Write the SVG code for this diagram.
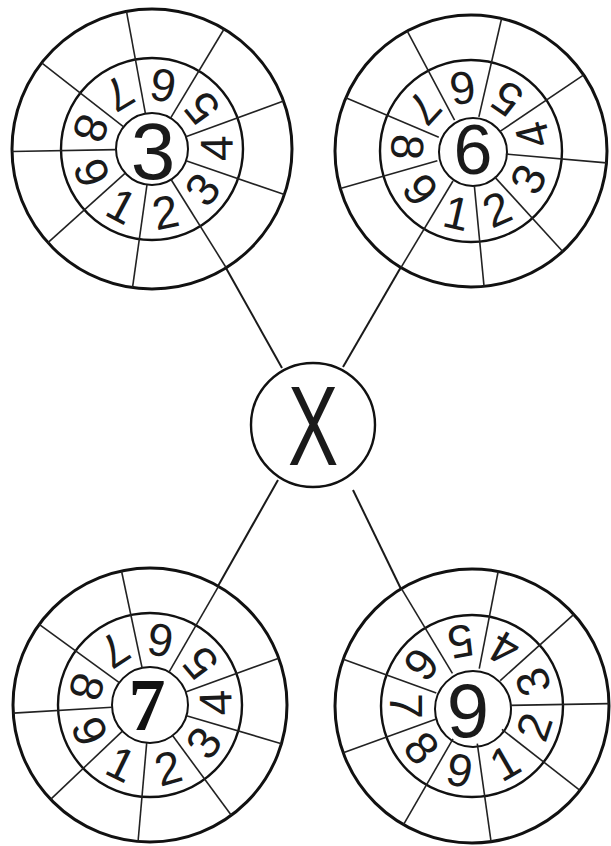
<svg xmlns="http://www.w3.org/2000/svg" width="611" height="846" viewBox="0 0 611 846">
<style>
.bg{fill:#fff}
.out{fill:none;stroke:#111;stroke-width:3}
.ring{fill:none;stroke:#111;stroke-width:2.4}
.inn{fill:none;stroke:#111;stroke-width:2}
.sp{stroke:#222;stroke-width:1.6;fill:none}
.cn{stroke:#1a1a1a;stroke-width:2;fill:none}
.d{font-family:"Liberation Sans",Arial,sans-serif;font-size:46px;fill:#1a1a1a;text-anchor:middle}
.c{font-family:"Liberation Sans",Arial,sans-serif;fill:#1a1a1a;text-anchor:middle}
</style>
<rect class="bg" x="0" y="0" width="611" height="846"/>

<g id="connectors">
<line class="cn" x1="226" y1="268" x2="282" y2="368"/>
<line class="cn" x1="401" y1="267" x2="343" y2="367"/>
<line class="cn" x1="218" y1="586" x2="278" y2="480"/>
<line class="cn" x1="401" y1="589" x2="353" y2="490"/>
</g>

<g id="wheel3" transform="translate(152,149)">
<circle class="out" r="140"/>
<circle class="ring" r="91"/>
<circle class="inn" r="36"/>
<g class="sp">
<line x1="36" x2="140" transform="rotate(19)"/>
<line x1="36" x2="140" transform="rotate(58)"/>
<line x1="36" x2="140" transform="rotate(98)"/>
<line x1="36" x2="140" transform="rotate(138)"/>
<line x1="36" x2="140" transform="rotate(179)"/>
<line x1="36" x2="140" transform="rotate(218)"/>
<line x1="36" x2="140" transform="rotate(259.5)"/>
<line x1="36" x2="140" transform="rotate(301)"/>
<line x1="36" x2="140" transform="rotate(340)"/>
</g>
<text class="d" dy="0.36em" transform="rotate(118) translate(64,0) rotate(-90)">1</text>
<text class="d" dy="0.36em" transform="rotate(78) translate(64,0) rotate(-90)">2</text>
<text class="d" dy="0.36em" transform="rotate(38.5) translate(64,0) rotate(-90)">3</text>
<text class="d" dy="0.36em" transform="rotate(359.5) translate(64,0) rotate(-90)">4</text>
<text class="d" dy="0.36em" transform="rotate(320.5) translate(64,0) rotate(-90)">5</text>
<text class="d" dy="0.36em" transform="rotate(280) translate(64,0) rotate(-90)">6</text>
<text class="d" dy="0.36em" transform="rotate(239) translate(64,0) rotate(-90)">7</text>
<text class="d" dy="0.36em" transform="rotate(198.5) translate(64,0) rotate(-90)">8</text>
<text class="d" dy="0.36em" transform="rotate(158.5) translate(64,0) rotate(-90)">9</text>
<text class="c" x="1" y="1" dy="0.36em" font-size="80">3</text>
</g>

<g id="wheel6" transform="translate(471,151)">
<circle class="out" r="136"/>
<circle class="ring" r="91"/>
<circle class="inn" cx="2" cy="1" r="34"/>
<g class="sp">
<line x1="35" x2="136" transform="rotate(5)"/>
<line x1="35" x2="136" transform="rotate(47.6)"/>
<line x1="35" x2="136" transform="rotate(84.5)"/>
<line x1="35" x2="136" transform="rotate(121)"/>
<line x1="35" x2="136" transform="rotate(164)"/>
<line x1="35" x2="136" transform="rotate(203)"/>
<line x1="35" x2="136" transform="rotate(242)"/>
<line x1="35" x2="136" transform="rotate(283)"/>
<line x1="35" x2="136" transform="rotate(326)"/>
</g>
<text class="d" dy="0.36em" transform="rotate(103) translate(63,0) rotate(-90)">1</text>
<text class="d" dy="0.36em" transform="rotate(66) translate(63,0) rotate(-90)">2</text>
<text class="d" dy="0.36em" transform="rotate(26) translate(63,0) rotate(-90)">3</text>
<text class="d" dy="0.36em" transform="rotate(345.5) translate(63,0) rotate(-90)">4</text>
<text class="d" dy="0.36em" transform="rotate(304.5) translate(63,0) rotate(-90)">5</text>
<text class="d" dy="0.36em" transform="rotate(262.5) translate(63,0) rotate(-90)">6</text>
<text class="d" dy="0.36em" transform="rotate(222.5) translate(63,0) rotate(-90)">7</text>
<text class="d" dy="0.36em" transform="rotate(183.5) translate(63,0) rotate(-90)">8</text>
<text class="d" dy="0.36em" transform="rotate(142.5) translate(63,0) rotate(-90)">9</text>
<text class="c" x="2" y="-2" dy="0.36em" font-size="70">6</text>
</g>

<g id="wheel7" transform="translate(150,705)">
<circle class="out" r="137"/>
<circle class="ring" r="92"/>
<circle class="inn" r="38"/>
<g class="sp">
<line x1="38" x2="137" transform="rotate(16.4)"/>
<line x1="38" x2="137" transform="rotate(53.6)"/>
<line x1="38" x2="137" transform="rotate(95)"/>
<line x1="38" x2="137" transform="rotate(136.5)"/>
<line x1="38" x2="137" transform="rotate(176.6)"/>
<line x1="38" x2="137" transform="rotate(216)"/>
<line x1="38" x2="137" transform="rotate(258)"/>
<line x1="38" x2="137" transform="rotate(300)"/>
<line x1="38" x2="137" transform="rotate(340)"/>
</g>
<text class="d" dy="0.36em" transform="rotate(116) translate(65,0) rotate(-90)">1</text>
<text class="d" dy="0.36em" transform="rotate(74) translate(65,0) rotate(-90)">2</text>
<text class="d" dy="0.36em" transform="rotate(35) translate(65,0) rotate(-90)">3</text>
<text class="d" dy="0.36em" transform="rotate(358) translate(65,0) rotate(-90)">4</text>
<text class="d" dy="0.36em" transform="rotate(320) translate(65,0) rotate(-90)">5</text>
<text class="d" dy="0.36em" transform="rotate(279) translate(65,0) rotate(-90)">6</text>
<text class="d" dy="0.36em" transform="rotate(237) translate(65,0) rotate(-90)">7</text>
<text class="d" dy="0.36em" transform="rotate(196) translate(65,0) rotate(-90)">8</text>
<text class="d" dy="0.36em" transform="rotate(156.5) translate(65,0) rotate(-90)">9</text>
<text x="-3" y="0" dy="0.34em" text-anchor="middle" font-family="'Liberation Serif','Times New Roman',serif" font-weight="bold" font-size="74" fill="#111">7</text>
</g>

<g id="wheel9" transform="translate(472,706)">
<circle class="out" r="137"/>
<circle class="ring" r="91"/>
<circle class="inn" cx="1" cy="3" r="38"/>
<g class="sp">
<line x1="38" x2="137" transform="rotate(359)"/>
<line x1="38" x2="137" transform="rotate(38)"/>
<line x1="38" x2="137" transform="rotate(82)"/>
<line x1="38" x2="137" transform="rotate(120)"/>
<line x1="38" x2="137" transform="rotate(160)"/>
<line x1="38" x2="137" transform="rotate(200)"/>
<line x1="38" x2="137" transform="rotate(239)"/>
<line x1="38" x2="137" transform="rotate(281)"/>
<line x1="38" x2="137" transform="rotate(318)"/>
</g>
<text class="d" dy="0.36em" transform="rotate(60) translate(65,0) rotate(-90)">1</text>
<text class="d" dy="0.36em" transform="rotate(18.5) translate(65,0) rotate(-90)">2</text>
<text class="d" dy="0.36em" transform="rotate(338.5) translate(65,0) rotate(-90)">3</text>
<text class="d" dy="0.36em" transform="rotate(299.5) translate(65,0) rotate(-90)">4</text>
<text class="d" dy="0.36em" transform="rotate(260) translate(65,0) rotate(-90)">5</text>
<text class="d" dy="0.36em" transform="rotate(219.5) translate(65,0) rotate(-90)">6</text>
<text class="d" dy="0.36em" transform="rotate(180) translate(65,0) rotate(-90)">7</text>
<text class="d" dy="0.36em" transform="rotate(140) translate(65,0) rotate(-90)">8</text>
<text class="d" dy="0.36em" transform="rotate(101) translate(65,0) rotate(-90)">9</text>
<text class="c" x="-4" y="4" dy="0.36em" font-size="76">9</text>
</g>

<g id="times">
<circle class="ring" cx="313" cy="425" r="62"/>
<text class="c" x="0" y="0" font-size="114" transform="translate(313,465) scale(0.66,1)">X</text>
</g>
</svg>
